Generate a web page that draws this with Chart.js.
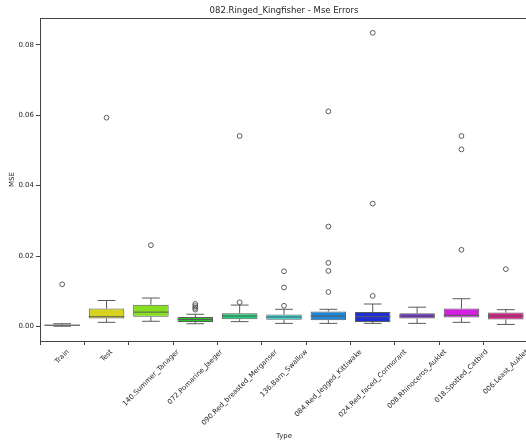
<!DOCTYPE html>
<html>
<head>
<meta charset="utf-8">
<script src="https://cdn.jsdelivr.net/npm/chart.js@4.4.1/dist/chart.umd.min.js"></script>
<style>
html,body{margin:0;padding:0;background:#fff;overflow:hidden;width:526px;height:445px;}
canvas{display:block;}
</style>
</head>
<body>
<canvas id="c" width="533" height="445"></canvas>
<script>
const categories = ['Train','Test','140.Summer_Tanager','072.Pomarine_Jaeger','090.Red_breasted_Merganser','136.Barn_Swallow','084.Red_legged_Kittiwake','024.Red_faced_Cormorant','008.Rhinoceros_Auklet','018.Spotted_Catbird','006.Least_Auklet'];
const whiskerLow  = [0.0001,0.0012,0.0015,0.0008,0.0014,0.0009,0.0009,0.0009,0.0009,0.0012,0.0006];
const q1          = [0.0002,0.0023,0.0028,0.0013,0.0021,0.0019,0.0018,0.0013,0.0023,0.0026,0.0020];
const median      = [0.0004,0.0028,0.0041,0.0020,0.0030,0.0027,0.0030,0.0028,0.0030,0.0032,0.0030];
const q3          = [0.0005,0.0051,0.0062,0.0027,0.0038,0.0034,0.0043,0.0041,0.0038,0.0051,0.0040];
const whiskerHigh = [0.0008,0.0074,0.0081,0.0035,0.0061,0.0049,0.0049,0.0064,0.0055,0.0079,0.0048];
const outliers = [
  [0.0120],
  [0.0593],
  [0.0231],
  [0.0048,0.0053,0.0058,0.0064],
  [0.0069,0.0541],
  [0.0059,0.0111,0.0157],
  [0.0098,0.0158,0.0181,0.0284,0.0611],
  [0.0087,0.0349,0.0834],
  [],
  [0.0218,0.0503,0.0541],
  [0.0163]
];
const yTickValues = [0.00,0.02,0.04,0.06,0.08];
const boxColors = ['#474747','#d8d31f','#86e01f','#27c128','#20d27e','#1fd4cf','#1f88d9','#1f2fd6','#6a28c8','#d21fe0','#d91f87'];

const lineColor = '#5a5a5a';
const textColor = '#262626';
const FONT = 'DejaVu Sans';

const outlierPoints = [];
outliers.forEach((arr,i)=>arr.forEach(v=>outlierPoints.push({x:categories[i], y:v})));

const extras = {
  id:'extras',
  afterDatasetsDraw(chart){
    const {ctx, scales:{x,y}} = chart;
    const meta = chart.getDatasetMeta(0);
    ctx.save();
    ctx.strokeStyle = lineColor;
    ctx.lineWidth = 1;
    const ln=(a,b,c,d)=>{ctx.beginPath();ctx.moveTo(a,b);ctx.lineTo(c,d);ctx.stroke();};
    meta.data.forEach((bar,i)=>{
      const cx = bar.x, half = bar.width/2, cap = half/2;
      const yh = y.getPixelForValue(whiskerHigh[i]), yl = y.getPixelForValue(whiskerLow[i]);
      ln(cx, y.getPixelForValue(q3[i]), cx, yh);
      ln(cx-cap, yh, cx+cap, yh);
      ln(cx, y.getPixelForValue(q1[i]), cx, yl);
      ln(cx-cap, yl, cx+cap, yl);
      const ym = y.getPixelForValue(median[i]);
      ln(cx-half, ym, cx+half, ym);
    });
    ctx.restore();
  },
  afterDraw(chart){
    const {ctx, chartArea:a, scales:{x}} = chart;
    ctx.save();
    ctx.strokeStyle = '#444';
    ctx.lineWidth = 1;
    ctx.beginPath();
    ctx.moveTo(a.left, a.top+0.5); ctx.lineTo(a.right, a.top+0.5);
    ctx.moveTo(a.right-0.5, a.top); ctx.lineTo(a.right-0.5, a.bottom);
    ctx.stroke();
    ctx.fillStyle = textColor;
    ctx.font = '8.5px "'+FONT+'"';
    ctx.textAlign='center'; ctx.textBaseline='middle';
    ctx.fillText('082.Ringed_Kingfisher - Mse Errors', (a.left+a.right)/2, 11);
    ctx.font = '7px "'+FONT+'"';
    const top = a.bottom + 7;
    categories.forEach((lab,i)=>{
      const px = x.getPixelForTick(i);
      const w = ctx.measureText(lab).width, h = 8;
      const cy = top + (w+h)*0.7071/2;
      ctx.save();
      ctx.translate(px, cy);
      ctx.rotate(-Math.PI/4);
      ctx.textAlign='center'; ctx.textBaseline='middle';
      ctx.fillText(lab, 0, 0);
      ctx.restore();
    });
    ctx.fillText('Type', (a.left+a.right)/2, 436);
    ctx.save();
    ctx.translate(12, (a.top+a.bottom)/2);
    ctx.rotate(-Math.PI/2);
    ctx.fillText('MSE', 0, 0);
    ctx.restore();
    ctx.restore();
  }
};

new Chart(document.getElementById('c'), {
  data:{
    labels: categories,
    datasets:[
      {
        type:'bar',
        data: q1.map((v,i)=>[v,q3[i]]),
        backgroundColor: boxColors,
        borderColor: lineColor,
        borderWidth: 1,
        borderSkipped: false,
        barPercentage: 0.8,
        categoryPercentage: 1.0
      },
      {
        type:'scatter',
        data: outlierPoints,
        pointStyle:'circle',
        pointRadius: 2.4,
        pointBackgroundColor:'rgba(0,0,0,0)',
        pointBorderColor: lineColor,
        pointBorderWidth: 1
      }
    ]
  },
  options:{
    responsive:false,
    animation:false,
    events:[],
    layout:{padding:{top:18,right:0,bottom:0,left:0}},
    plugins:{legend:{display:false}, title:{display:false}, tooltip:{enabled:false}},
    scales:{
      x:{
        type:'category',
        offset:true,
        grid:{display:true, drawOnChartArea:false, drawTicks:true, tickLength:4, color:'#444'},
        border:{display:true, color:'#444', width:1},
        ticks:{display:false},
        afterFit(s){ s.height = 104; }
      },
      y:{
        type:'linear',
        min:-0.0041,
        max:0.0876,
        grid:{display:true, drawOnChartArea:false, drawTicks:true, tickLength:4, color:'#444'},
        border:{display:true, color:'#444', width:1},
        ticks:{
          font:{family:FONT, size:7},
          color:textColor,
          padding:2,
          callback:(v)=>Number(v).toFixed(2)
        },
        afterBuildTicks(s){ s.ticks = yTickValues.map(v=>({value:v})); },
        afterFit(s){ s.width = 40; }
      }
    }
  },
  plugins:[extras]
});
</script>
</body>
</html>
